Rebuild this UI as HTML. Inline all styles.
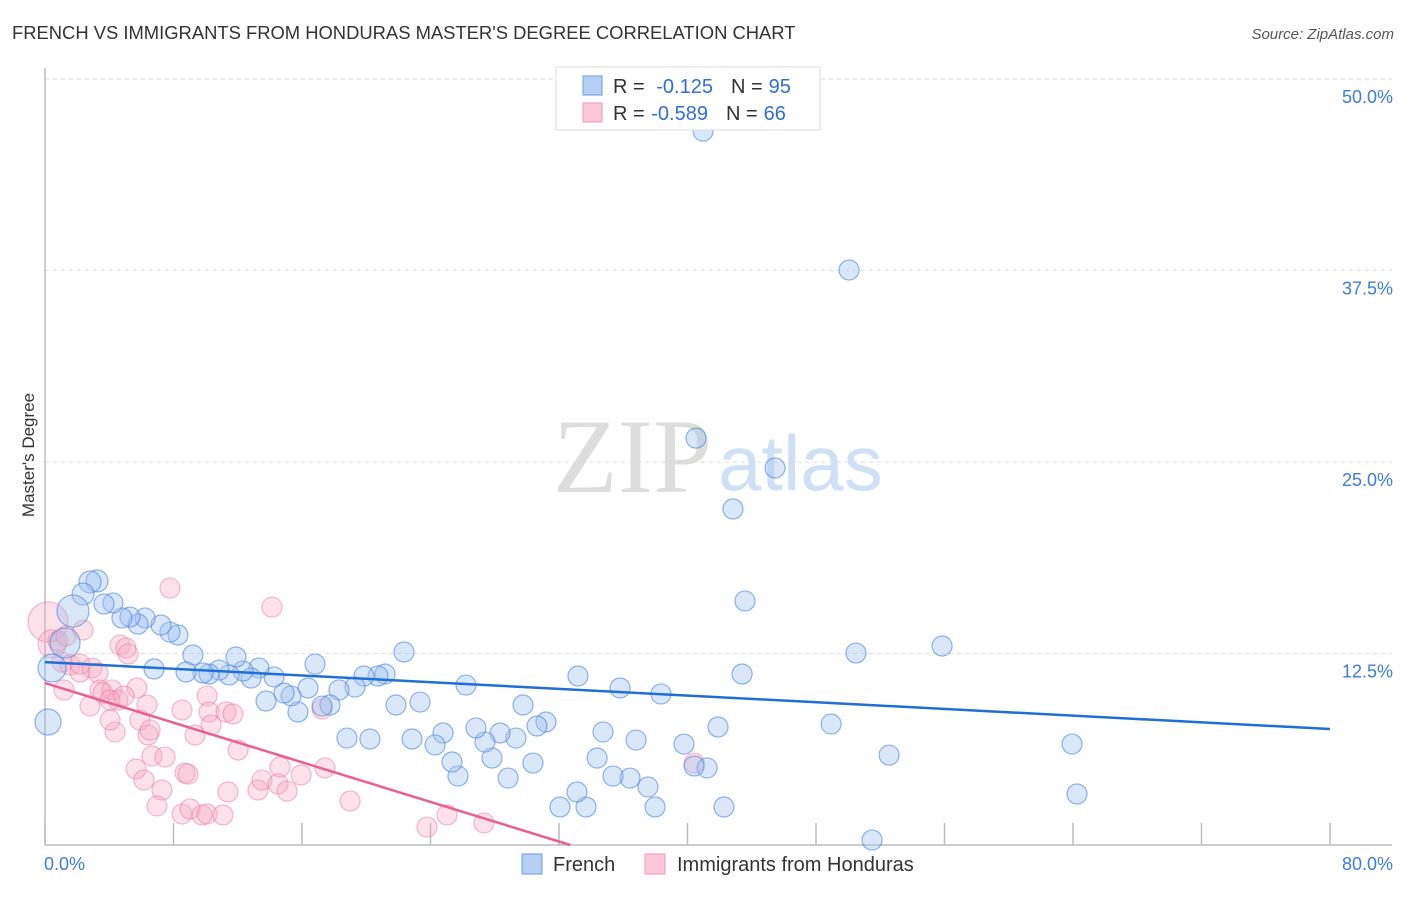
<!DOCTYPE html>
<html><head><meta charset="utf-8"><style>
body{margin:0;background:#fff;font-family:"Liberation Sans",sans-serif}
</style></head><body>
<svg width="1406" height="892" xmlns="http://www.w3.org/2000/svg" id="chart" style="font-family:'Liberation Sans',sans-serif">
<text x="12" y="39" font-size="18.4" fill="#333">FRENCH VS IMMIGRANTS FROM HONDURAS MASTER'S DEGREE CORRELATION CHART</text>
<text x="1394" y="39" font-size="15" fill="#555" text-anchor="end" font-style="italic">Source: ZipAtlas.com</text>
<g>
<text x="553" y="492" font-size="106" fill="#ddd" font-family="Liberation Serif,serif">ZIP</text>
<text x="718" y="490" font-size="78" fill="#cfe0f5">atlas</text>
</g>
<g id="grid"></g>
<g id="axes"></g>
<g id="pts"></g>
<g id="lines"></g>
<text transform="translate(34,455) rotate(-90)" font-size="17" fill="#333" text-anchor="middle">Master's Degree</text>
<g>
<rect x="556" y="67" width="264" height="63" fill="#fff" stroke="#ddd"/>
<rect x="583" y="76" width="19" height="19" fill="#b5d0f5" stroke="#6d9de0"/>
<rect x="583" y="103" width="19" height="19" fill="#f9c7d6" stroke="#ee9ab5"/>
<text x="613" y="93" font-size="20" fill="#333">R = <tspan fill="#2f6fd0" dx="6">-0.125</tspan><tspan dx="18">N =</tspan><tspan fill="#2f6fd0" dx="6">95</tspan></text>
<text x="613" y="120" font-size="20" fill="#333">R = <tspan fill="#2f6fd0" dx="1">-0.589</tspan><tspan dx="18">N =</tspan><tspan fill="#2f6fd0" dx="6">66</tspan></text>
</g>
<g>
<rect x="522" y="854" width="20" height="20" fill="#b5d0f5" stroke="#6d9de0"/>
<text x="553" y="871" font-size="20" fill="#333">French</text>
<rect x="645" y="854" width="20" height="20" fill="#f9c7d6" stroke="#ee9ab5"/>
<text x="677" y="871" font-size="20" fill="#333">Immigrants from Honduras</text>
</g>
</svg>
<script>
const yTicks=[12.5,25,37.5,50];
const yTickLabels=["12.5%","25.0%","37.5%","50.0%"];
const xTickVals=[0,8,16,24,32,40,48,56,64,72,80];
const frenchX=[40.97,50.06,40.53,45.45,42.83,43.58,50.49,55.85,63.94,64.25,51.49,52.55,48.94,43.40,41.90,41.22,42.27,40.41,39.78,38.35,37.98,37.54,36.80,36.42,35.36,35.80,34.74,34.37,33.68,33.12,32.06,33.18,31.19,30.63,30.38,29.32,29.76,28.83,28.33,27.83,27.39,26.83,26.21,25.71,25.34,24.78,24.28,23.35,22.85,22.35,21.85,21.17,20.73,20.23,19.86,19.30,18.80,18.30,17.74,17.25,16.81,16.37,15.75,15.32,14.88,14.26,13.76,13.32,12.83,12.33,11.89,11.46,10.83,10.21,9.84,9.21,8.78,8.28,7.78,7.22,6.79,6.23,5.79,5.29,4.79,4.23,3.67,3.24,2.80,2.37,1.74,1.25,0.44,0.19];
const frenchY=[46.60,37.53,26.56,24.61,21.93,15.93,12.53,12.99,6.59,3.33,0.33,5.87,7.90,11.16,7.70,5.03,2.48,5.16,6.59,9.86,2.48,3.79,6.85,4.37,4.50,10.25,7.38,5.68,2.48,3.46,2.48,11.03,8.03,7.77,5.35,6.98,9.14,4.37,7.31,5.68,6.72,7.64,10.44,4.50,5.42,7.31,6.53,9.33,6.92,12.60,9.14,11.16,11.03,6.92,11.03,10.31,6.98,10.12,9.14,9.07,11.81,10.25,8.68,9.73,9.92,10.97,9.40,11.55,10.90,11.36,12.27,11.10,11.42,11.16,11.23,12.40,11.29,13.71,13.90,14.36,11.49,14.82,14.42,14.88,14.82,15.80,15.73,17.23,17.17,16.38,15.27,13.18,11.55,8.03];
const frenchSize=[10,10,10,10,10,10,10,10,10,10,10,10,10,10,10,10,10,10,10,10,10,10,10,10,10,10,10,10,10,10,10,10,10,10,10,10,10,10,10,10,10,10,10,10,10,10,10,10,10,10,10,10,10,10,10,10,10,10,10,10,10,10,10,10,10,10,10,10,10,10,10,10,10,10,10,10,10,10,10,10,10,10,10,10,10,10,10,11,11,11,16,15,14,13];
const hondX=[0.19,0.44,0.81,1.06,1.31,2.37,1.56,2.18,1.18,2.18,2.93,3.30,3.42,2.80,3.61,4.17,4.54,4.05,5.73,4.92,4.67,5.04,5.17,7.78,14.13,10.09,10.21,8.53,9.34,10.34,11.27,11.70,12.02,5.91,6.41,4.36,4.05,6.35,6.54,5.67,6.66,7.47,6.16,7.28,6.97,8.72,8.90,8.53,9.03,9.77,10.09,11.08,11.39,13.26,13.51,14.63,14.51,15.07,15.94,17.25,17.43,18.99,23.78,25.03,27.33,40.41];
const hondY=[14.56,13.12,13.31,11.94,13.64,14.03,11.75,11.29,10.12,11.81,11.55,11.23,10.12,9.07,9.92,10.12,9.46,9.46,10.25,9.73,13.05,12.86,12.47,16.77,15.53,9.73,8.68,8.81,7.18,7.83,8.68,8.55,6.20,8.16,7.18,7.38,8.16,9.14,7.51,4.96,5.81,5.74,4.24,3.59,2.55,4.70,4.63,2.02,2.35,1.96,2.02,1.96,3.46,3.59,4.24,5.09,3.98,3.52,4.57,8.88,5.03,2.87,1.17,1.96,1.44,5.35];
const hondSize=[20,14];
const frenchTrend=[11.94,7.57];
const hondTrend=[10.57,-0.3232];
const X0=45,X1=1330,Y0=845,Y50=79;
function sx(v){return X0+v/80*(X1-X0);}
function sy(v){return Y0-v/50*(Y0-Y50);}
const NS="http://www.w3.org/2000/svg";
function mk(t,a,p){const e=document.createElementNS(NS,t);for(const k in a)e.setAttribute(k,a[k]);p.appendChild(e);return e;}
const grid=document.getElementById('grid'),axes=document.getElementById('axes'),pts=document.getElementById('pts'),lines=document.getElementById('lines');
yTicks.forEach((v,i)=>{
 const l=mk('line',{x1:X0,x2:1392,y1:sy(v),y2:sy(v),stroke:'#ddd','stroke-dasharray':'4,4'},grid);
 
 
 const t=mk('text',{x:1393,y:sy(v)+24,'font-size':18,fill:'#3b7dd8','text-anchor':'end'},axes);
 t.textContent=yTickLabels[i];
 
 
});
const ya=mk('line',{x1:X0,x2:X0,y1:68,y2:Y0,stroke:'#bbb','stroke-width':1.5},axes);


const xa=mk('line',{x1:X0,x2:1392,y1:Y0,y2:Y0,stroke:'#bbb','stroke-width':1.5},axes);


xTickVals.forEach(v=>{
 const t=mk('line',{x1:sx(v),x2:sx(v),y1:Y0-22,y2:Y0,stroke:'#bbb','stroke-width':1.5},axes);
 
 
});
const xl0=mk('text',{x:44,y:870,'font-size':18,fill:'#3b7dd8'},axes);xl0.textContent='0.0%';


const xl1=mk('text',{x:1393,y:870,'font-size':18,fill:'#3b7dd8','text-anchor':'end'},axes);xl1.textContent='80.0%';


hondX.forEach((v,i)=>{
 const c=mk('circle',{cx:sx(v),cy:sy(hondY[i]),r:hondSize[i]||10,fill:'rgba(246,170,196,0.35)',stroke:'rgba(232,120,155,0.5)','stroke-width':1.2},pts);
 
 
});
frenchX.forEach((v,i)=>{
 const c=mk('circle',{cx:sx(v),cy:sy(frenchY[i]),r:frenchSize[i]||10,fill:'rgba(160,196,240,0.4)',stroke:'rgba(70,130,220,0.6)','stroke-width':1.2},pts);
 
 
});
const fl=mk('line',{x1:sx(0),y1:sy(frenchTrend[0]),x2:sx(80),y2:sy(frenchTrend[1]),stroke:'#1f6fd6','stroke-width':2.5},lines);


const xEnd=-hondTrend[0]/hondTrend[1];
const hl=mk('line',{x1:sx(0),y1:sy(hondTrend[0]),x2:sx(xEnd),y2:sy(0),stroke:'#e8608f','stroke-width':2.5},lines);


</script>
</body></html>
